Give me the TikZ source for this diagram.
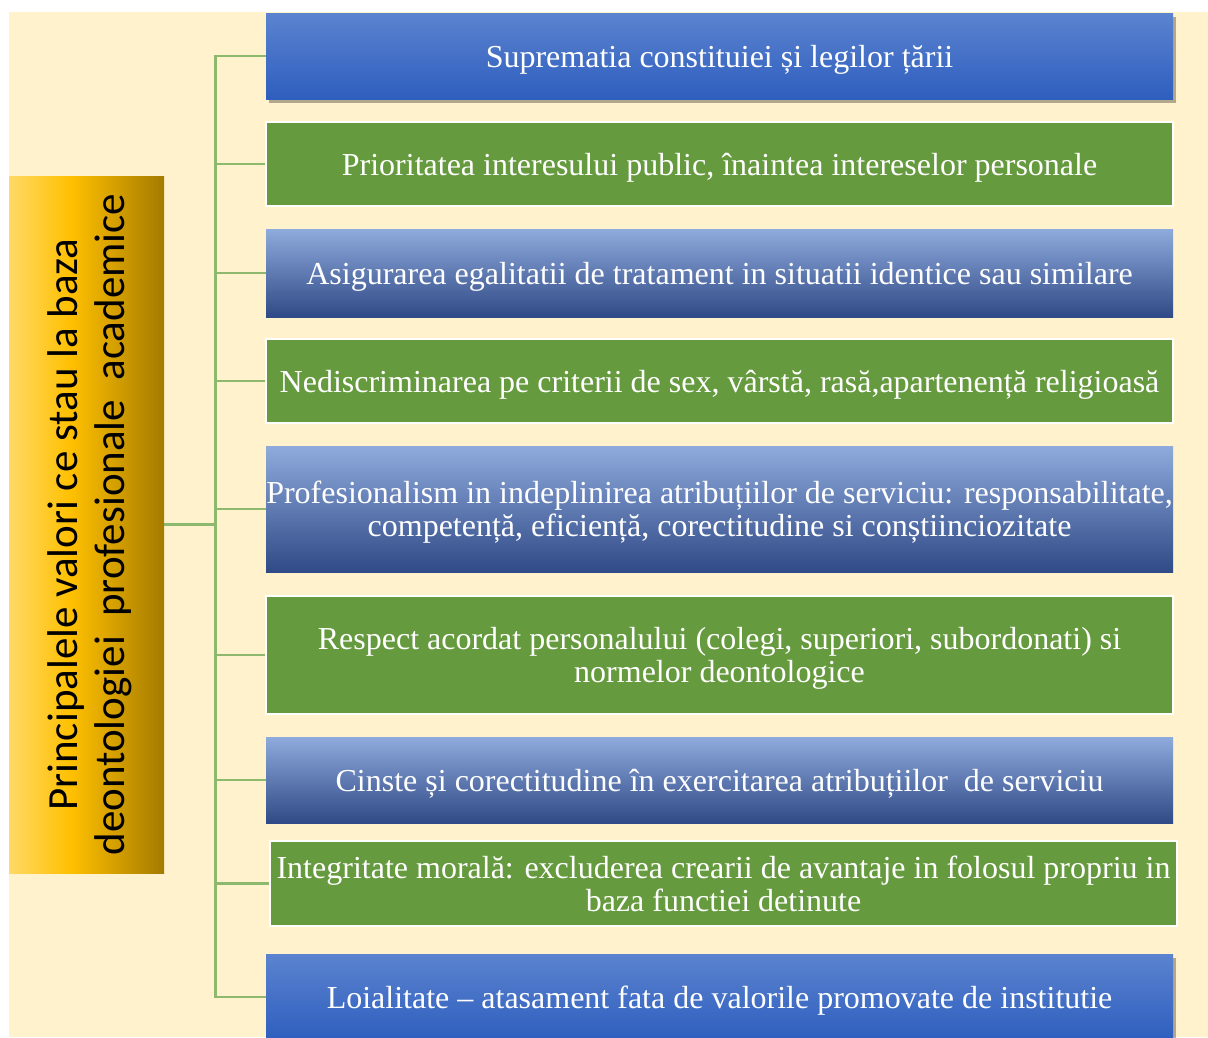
\documentclass[tikz,border=0pt]{standalone}
\usepackage{fontspec}
\setmainfont{Liberation Serif}
\newfontfamily\calibri{Carlito}
\usetikzlibrary{shadows}

\definecolor{cream}{HTML}{FFF2CC}
\definecolor{leafgreen}{HTML}{669A3E}
\definecolor{linkgreen}{HTML}{8DB96F}
\definecolor{bluetop}{HTML}{5B83CF}
\definecolor{bluebottom}{HTML}{2E5EBE}
\definecolor{palebluetop}{HTML}{8FAADC}
\definecolor{palebluemid}{HTML}{4472C4}
\definecolor{palebluebottom}{HTML}{2F4A86}
\definecolor{goldlight}{HTML}{FFD966}
\definecolor{goldmid}{HTML}{FFC000}
\definecolor{golddark}{HTML}{A47A00}

\pgfdeclarehorizontalshading{goldshade}{100bp}{color(0bp)=(goldlight); color(25bp)=(goldlight);
    color(45bp)=(goldmid); color(75bp)=(golddark); color(100bp)=(golddark)}

\tikzset{
    item/.style={minimum width=907pt, minimum height=86pt, inner sep=0pt, align=center,
        text depth=0pt, text=white, font=\fontsize{32}{33}\selectfont},
    greenitem/.style={item, fill=leafgreen, draw=white, line width=2pt},
    blueitem/.style={item, top color=bluetop, bottom color=bluebottom,
        drop shadow={shadow xshift=3pt, shadow yshift=-4pt, opacity=.3, fill=black}},
    paleitem/.style={item, top color=palebluetop, middle color=palebluemid, bottom color=palebluebottom},
    rootbox/.style={minimum width=155pt, minimum height=697pt, inner sep=0pt, shading=goldshade},
    link/.style={draw=linkgreen, line width=2.8pt}
}

\begin{document}
\begin{tikzpicture}[x=1pt, y=-1pt]
        \clip (0, 0) rectangle (1208, 1037);
        \fill[white] (0, 0) rectangle (1208, 1037);
        \fill[cream] (9, 12) rectangle (1208, 1037);

        \node[rootbox] (root) at (86.5, 524.5) {};
        \node[rotate=90, align=center, font=\calibri\fontsize{43}{47}\selectfont] (roottext) at ([xshift=3pt]root.center)
            {Principalele valori ce stau la baza\\deontologiei\ \ profesionale\ \ academice};

        \node[blueitem] (b1) at (719.5, 56) {Suprematia constituiei și legilor țării};
        \node[greenitem, minimum height=84pt] (b2) at (719.5, 164) {Prioritatea interesului public, înaintea intereselor personale};
        \node[paleitem, minimum height=88pt] (b3) at (719.5, 273) {Asigurarea egalitatii de tratament in situatii identice sau similare};
        \node[greenitem, minimum height=84pt] (b4) at (719.5, 381) {Nediscriminarea pe criterii de sex, vârstă, rasă,apartenență religioasă};
        \node[paleitem, minimum height=126pt] (b5) at (719.5, 509) {Profesionalism in indeplinirea atribuțiilor de serviciu: responsabilitate,\\competență, eficiență, corectitudine si conștiinciozitate};
        \node[greenitem, minimum height=118pt] (b6) at (719.5, 655) {Respect acordat personalului (colegi, superiori, subordonati) si\\normelor deontologice};
        \node[paleitem] (b7) at (719.5, 780) {Cinste și corectitudine în exercitarea atribuțiilor\ \ de serviciu};
        \node[greenitem, minimum height=85pt] (b8) at (723.5, 883.5) {Integritate morală: excluderea crearii de avantaje in folosul propriu in\\baza functiei detinute};
        \node[blueitem] (b9) at (719.5, 997) {Loialitate – atasament fata de valorile promovate de institutie};

        \draw[link] (root.east) -- ++(51, 0) coordinate (spine);
        \foreach \b in {b1, b2, b3, b4, b5, b6, b7, b8, b9}
            \draw[link] (spine) |- (\b.west);
\end{tikzpicture}
\end{document}
